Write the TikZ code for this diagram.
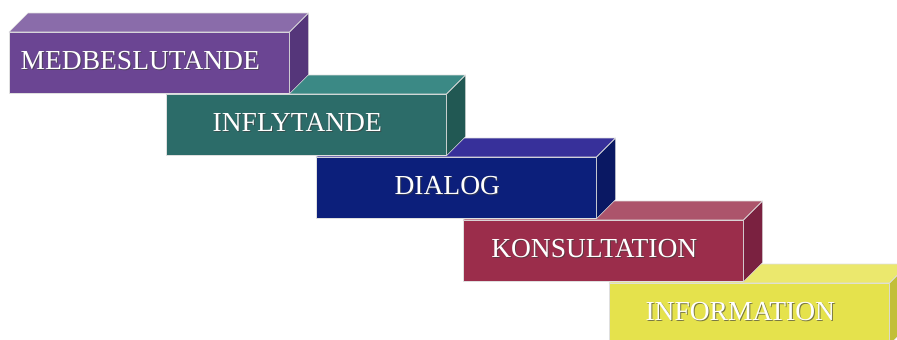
\documentclass[tikz,border=0pt]{standalone}
\usepackage{fontspec}
\setmainfont{Liberation Serif}
\usetikzlibrary{positioning}

\definecolor{purpfront}{HTML}{6B4593}
\definecolor{purptop}{HTML}{8A6CAA}
\definecolor{purpside}{HTML}{55367A}
\definecolor{tealfront}{HTML}{2C6C69}
\definecolor{tealtop}{HTML}{3B8985}
\definecolor{tealside}{HTML}{215853}
\definecolor{navyfront}{HTML}{0C1F7B}
\definecolor{navytop}{HTML}{37309A}
\definecolor{navyside}{HTML}{0A1863}
\definecolor{redfront}{HTML}{9B2D4B}
\definecolor{redtop}{HTML}{AC546B}
\definecolor{redside}{HTML}{7A2140}
\definecolor{yelfront}{HTML}{E5E24C}
\definecolor{yeltop}{HTML}{EBE86D}
\definecolor{yelside}{HTML}{C2BF38}

\begin{document}
\begin{tikzpicture}[x=1pt, y=-1pt,
    face/.style={draw=white!75!gray, line width=0.6pt, line join=round},
    front/.style={face, minimum width=280pt, minimum height=61pt, inner sep=0pt, anchor=north west},
    caption/.style={text=white, font=\fontsize{27.5}{28}\selectfont, inner sep=0pt},
    shade/.style={caption, text=black!75, opacity=0.65}]
  \useasboundingbox (0,0) rectangle (897,340);
  % boxes drawn from the lowest step up, so each one hides the next
  \foreach \name/\x/\y/\col/\txt in {info/609/283/yel/INFORMATION, kons/463/220/red/KONSULTATION,
      dial/316/157/navy/DIALOG, infl/166/94/teal/INFLYTANDE, medb/9/32/purp/MEDBESLUTANDE}{
    \node[front, fill=\col front] (\name) at (\x,\y) {};
    \draw[face, fill=\col top] (\name.north west) -- ++(19,-19) -- ([shift={(19,-19)}]\name.north east)
      -- (\name.north east) -- cycle;
    \draw[face, fill=\col side] (\name.north east) -- ++(19,-19) -- ([shift={(19,-19)}]\name.south east)
      -- (\name.south east) -- cycle;
    \node[shade] (s\name) at ([shift={(-8,-1)}]\name.center) {\txt};
    \node[caption] (t\name) at ([shift={(-9,-2)}]\name.center) {\txt};
  }
\end{tikzpicture}
\end{document}
